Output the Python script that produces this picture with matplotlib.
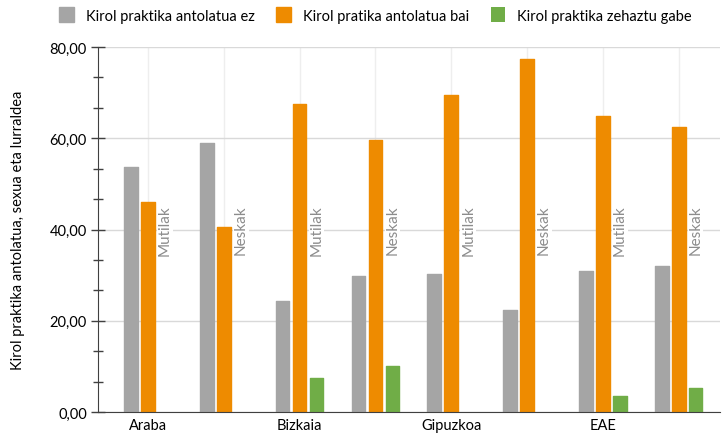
import matplotlib.pyplot as plt
import numpy as np
from matplotlib.ticker import MultipleLocator, FuncFormatter

plt.rcParams['font.family'] = ['Lato', 'DejaVu Sans']
plt.rcParams.update({'font.size': 10})

# data
regions = ['Araba', 'Bizkaia', 'Gipuzkoa', 'EAE']
sexes = ['Mutilak', 'Neskak']
ez = [53.7, 59.0, 24.3, 29.9, 30.2, 22.3, 31.0, 31.9]
bai = [46.0, 40.5, 67.5, 59.7, 69.5, 77.4, 64.9, 62.4]
gabe = [0.0, 0.0, 7.4, 10.0, 0.0, 0.0, 3.5, 5.3]
series_names = ['Kirol praktika antolatua ez', 'Kirol pratika antolatua bai',
                'Kirol praktika zehaztu gabe']
colors = ['#A5A5A5', '#EE8B00', '#70AD47']

fig = plt.figure(figsize=(7.22, 4.35), dpi=100)
ax = fig.add_axes([0.1357, 0.0506, 0.861, 0.839])

x = np.arange(len(ez))
w = 0.18
step = 0.224
handles = []
for i, (vals, name, c) in enumerate(zip([ez, bai, gabe], series_names, colors)):
    # thin edge with round joins to soften the corners; none on empty bars
    lw = [1 if v > 0 else 0 for v in vals]
    b = ax.bar(x + (i - 1) * step, vals, width=w, color=c, edgecolor=c,
               linewidth=lw, joinstyle='round', label=name, zorder=3)
    handles.append(b)

# sex labels, rotated, next to the orange bar
for i in range(len(x)):
    ax.text(x[i] + step, 40, sexes[i % 2], rotation=90, ha='center', va='center',
            color='#8C8C8C', fontsize=11, zorder=4,
            bbox=dict(facecolor='white', edgecolor='none', pad=0.5))

ax.set_ylim(0, 80)
ax.set_xlim(-0.66, 7.54)
ax.yaxis.set_major_locator(MultipleLocator(20))
ax.yaxis.set_minor_locator(MultipleLocator(20 / 3))
ax.yaxis.set_major_formatter(FuncFormatter(lambda v, p: f'{v:.2f}'.replace('.', ',')))
ax.tick_params(axis='y', which='major', direction='inout', length=10, width=1,
               color='#404040', labelsize=10.5, pad=3)
ax.tick_params(axis='y', which='minor', direction='inout', length=6.5, width=1,
               color='#404040')

ax.set_xticks(x, minor=True)
ax.set_xticks(x[::2])
ax.set_xticklabels(regions, fontsize=10.5)
ax.tick_params(axis='x', which='both', length=0, pad=4)

ax.grid(axis='y', which='major', color='#D9D9D9', linewidth=1, zorder=0)
ax.grid(axis='x', which='minor', color='#EEEEEE', linewidth=1, zorder=0)
ax.grid(axis='x', which='major', color='#EEEEEE', linewidth=1, zorder=0)

for s in ['top', 'right']:
    ax.spines[s].set_visible(False)
ax.spines['left'].set_color('#404040')
ax.spines['bottom'].set_color('#404040')
ax.spines['left'].set_zorder(5)
ax.spines['bottom'].set_zorder(5)

ax.set_ylabel('Kirol praktika antolatua, sexua eta lurraldea', fontsize=10.5, labelpad=18)

fig.legend(handles=handles, loc='center', bbox_to_anchor=(0.52, 0.963), ncol=3,
           frameon=False, fontsize=10.5, handlelength=1.0, handleheight=1.2,
           columnspacing=1.5, handletextpad=0.8)

plt.savefig('out.png', dpi=100)
